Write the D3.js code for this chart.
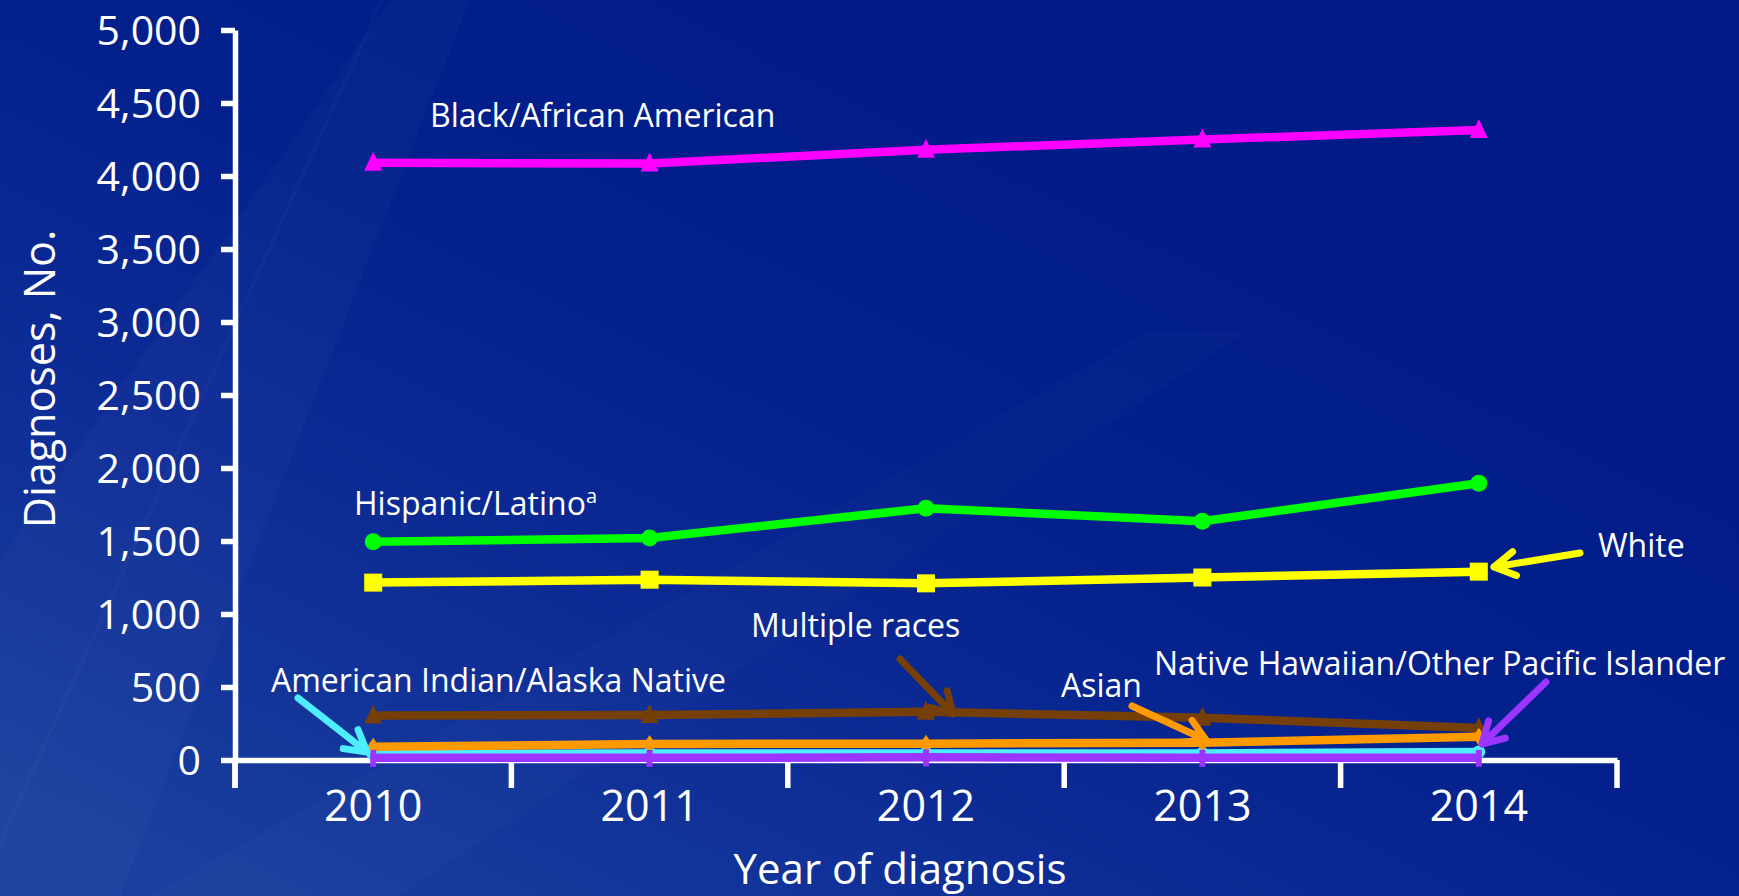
<!DOCTYPE html>
<html>
<head>
<meta charset="utf-8">
<script src="https://cdn.jsdelivr.net/npm/d3@7/dist/d3.min.js"></script>
<style>
  html, body { margin: 0; padding: 0; background: #001a88; }
  svg { display: block; font-family: "Open Sans", "Noto Sans", sans-serif; }
</style>
</head>
<body>
<svg id="chart" width="1739" height="896"></svg>
<script>
// ---- data ----
const years = [2010, 2011, 2012, 2013, 2014];
const yTicks = [0, 500, 1000, 1500, 2000, 2500, 3000, 3500, 4000, 4500, 5000];
const blackAA   = [4090, 4085, 4180, 4250, 4315];
const hispanic  = [1495, 1520, 1725, 1635, 1895];
const white     = [1215, 1235, 1210, 1250, 1290];
const multiple  = [305, 308, 330, 290, 220];
const asian     = [90, 110, 112, 118, 160];
const aian      = [40, 45, 45, 45, 55];
const nhopi     = [15, 15, 18, 15, 15];

const seriesNames = ["Black/African American", "Hispanic/Latino", "White", "Multiple races",
                     "Asian", "American Indian/Alaska Native", "Native Hawaiian/Other Pacific Islander"];

// ---- styling ----
const series = [
  { name: seriesNames[0], values: blackAA,  color: "#ff00ff", marker: "triangle" },
  { name: seriesNames[1], values: hispanic, color: "#00ff00", marker: "circle" },
  { name: seriesNames[2], values: white,    color: "#ffff00", marker: "square" },
  { name: seriesNames[3], values: multiple, color: "#753f07", marker: "triangle" },
  { name: seriesNames[5], values: aian,     color: "#4eeeff", marker: "smallcircle" },
  { name: seriesNames[4], values: asian,    color: "#ff9900", marker: "diamond" },
  { name: seriesNames[6], values: nhopi,    color: "#9b35ff", marker: "bar" }
];

const svg = d3.select("#chart");
const W = 1739, H = 896;

// background
const defs = svg.append("defs");
const g1 = defs.append("linearGradient").attr("id", "bg")
  .attr("x1", "0").attr("y1", "0.9").attr("x2", "0.75").attr("y2", "0.1");
g1.append("stop").attr("offset", "0").attr("stop-color", "#1a409f");
g1.append("stop").attr("offset", "0.35").attr("stop-color", "#0d2b95");
g1.append("stop").attr("offset", "0.6").attr("stop-color", "#03208c");
g1.append("stop").attr("offset", "1").attr("stop-color", "#001a87");
svg.append("rect").attr("width", W).attr("height", H).attr("fill", "url(#bg)");
// faint diagonal streaks
svg.append("path").attr("d", "M0,896 L0,560 L390,0 L470,0 L120,896 Z")
  .attr("fill", "#ffffff").attr("opacity", 0.025);
svg.append("path").attr("d", "M380,0 L384,0 L-22,896 L-26,896 Z")
  .attr("fill", "#ffffff").attr("opacity", 0.025);
svg.append("path").attr("d", "M150,896 L1150,330 L1250,330 L400,896 Z")
  .attr("fill", "#ffffff").attr("opacity", 0.015);

// scales
const x = d3.scaleBand().domain(years).range([235, 1617]).padding(0);
const cx = d => x(d) + x.bandwidth() / 2;
const y = d3.scaleLinear().domain([0, 5000]).range([760, 30]);

// y axis
const yAxis = svg.append("g").attr("transform", `translate(${x.range()[0]},0)`)
  .call(d3.axisLeft(y).tickValues(yTicks).tickFormat(d3.format(",")).tickSize(14).tickSizeOuter(0).tickPadding(20));
yAxis.select(".domain").attr("stroke", "#fff").attr("stroke-width", 5.5);
yAxis.selectAll(".tick line").attr("stroke", "#fff").attr("stroke-width", 5.5);
yAxis.selectAll(".tick text").attr("fill", "#fff").attr("font-size", 41)
  .attr("font-family", "Open Sans").attr("dy", "0.35em");
// extension of y axis below baseline
svg.append("line").attr("x1", x.range()[0]).attr("x2", x.range()[0])
  .attr("y1", y(0)).attr("y2", y(0) + 28).attr("stroke", "#fff").attr("stroke-width", 5.5);

// x axis
const xAxis = svg.append("g").attr("transform", `translate(0,${y(0)})`)
  .call(d3.axisBottom(x).tickSize(0).tickSizeOuter(0).tickPadding(30));
xAxis.select(".domain").attr("stroke", "#fff").attr("stroke-width", 5.5);
xAxis.selectAll(".tick text").attr("fill", "#fff").attr("font-size", 43).attr("font-family", "Open Sans");
const boundaries = years.map(d => x(d)).concat([x.range()[1]]);
svg.append("g").selectAll("line").data(boundaries).join("line")
  .attr("x1", d => d).attr("x2", d => d)
  .attr("y1", y(0)).attr("y2", y(0) + 28)
  .attr("stroke", "#fff").attr("stroke-width", 5.5);

// axis titles
svg.append("text").attr("transform", `translate(38,${(230 + 528) / 2}) rotate(-90)`)
  .attr("text-anchor", "middle").attr("dominant-baseline", "central")
  .attr("fill", "#fff").attr("font-size", 43).text("Diagnoses, No.");
svg.append("text").attr("x", 900).attr("y", 884).attr("text-anchor", "middle")
  .attr("fill", "#fff").attr("font-size", 42).text("Year of diagnosis");

// lines
const line = d3.line().x((d, i) => cx(years[i])).y(d => y(d));
const gSeries = svg.append("g");
series.forEach(s => {
  const g = gSeries.append("g");
  g.append("path").datum(s.values).attr("d", line)
    .attr("fill", "none").attr("stroke", s.color).attr("stroke-width", 8.5)
    .attr("stroke-linejoin", "round");
  const pts = g.selectAll(".m").data(s.values).join("g")
    .attr("transform", (d, i) => `translate(${cx(years[i])},${y(d)})`);
  if (s.marker === "triangle") {
    pts.append("path").attr("d", "M0,-11 L9,8 L-9,8 Z").attr("fill", s.color);
  } else if (s.marker === "circle") {
    pts.append("circle").attr("r", 8.5).attr("fill", s.color);
  } else if (s.marker === "smallcircle") {
    pts.append("circle").attr("r", 6.5).attr("fill", s.color);
  } else if (s.marker === "square") {
    pts.append("rect").attr("x", -9).attr("y", -9).attr("width", 18).attr("height", 18).attr("fill", s.color);
  } else if (s.marker === "diamond") {
    pts.append("path").attr("d", "M0,-9 L6,0 L0,9 L-6,0 Z").attr("fill", s.color);
  } else if (s.marker === "bar") {
    pts.append("rect").attr("x", -3).attr("y", -8).attr("width", 6).attr("height", 17).attr("fill", s.color);
  }
});

// annotations
const labels = [
  { text: "Black/African American", x: 430, y: 127 },
  { text: "Hispanic/Latino", sup: "a", x: 354, y: 515 },
  { text: "White", x: 1598, y: 557 },
  { text: "Multiple races", x: 751, y: 637 },
  { text: "American Indian/Alaska Native", x: 271, y: 692 },
  { text: "Asian", x: 1061, y: 697 },
  { text: "Native Hawaiian/Other Pacific Islander", x: 1154, y: 675 }
];
labels.forEach(l => {
  const t = svg.append("text").attr("x", l.x).attr("y", l.y).attr("fill", "#fff")
    .attr("font-size", 32).text(l.text);
  if (l.sup) t.append("tspan").attr("font-size", 20).attr("dy", -12).text(l.sup);
});

const arrows = [
  { x1: 298, y1: 698, x2: 367, y2: 752, color: "#4eeeff" },
  { x1: 900, y1: 659, x2: 953, y2: 714, color: "#753f07" },
  { x1: 1132, y1: 706, x2: 1206, y2: 740, color: "#ff9900" },
  { x1: 1546, y1: 682, x2: 1482, y2: 744, color: "#9b35ff" },
  { x1: 1580, y1: 553, x2: 1494, y2: 567, color: "#ffff00" }
];
arrows.forEach(a => {
  const ang = Math.atan2(a.y2 - a.y1, a.x2 - a.x1);
  const L = 24, spread = Math.PI / 6;
  const p1 = [a.x2 - L * Math.cos(ang - spread), a.y2 - L * Math.sin(ang - spread)];
  const p2 = [a.x2 - L * Math.cos(ang + spread), a.y2 - L * Math.sin(ang + spread)];
  svg.append("path")
    .attr("d", `M${a.x1},${a.y1} L${a.x2},${a.y2} M${p1[0]},${p1[1]} L${a.x2},${a.y2} L${p2[0]},${p2[1]}`)
    .attr("fill", "none").attr("stroke", a.color).attr("stroke-width", 7)
    .attr("stroke-linecap", "round").attr("stroke-linejoin", "round");
});
</script>
</body>
</html>
